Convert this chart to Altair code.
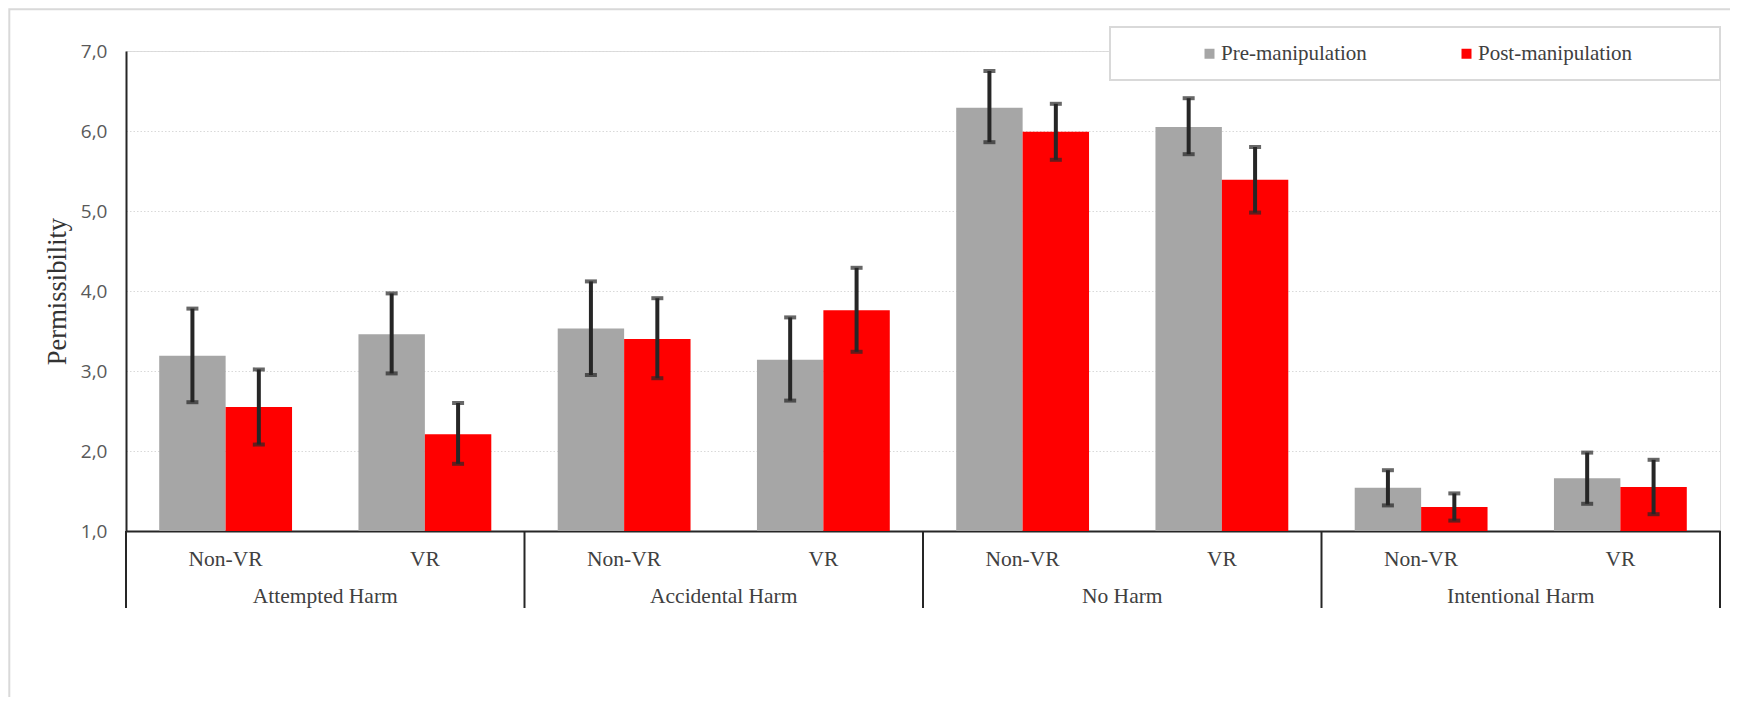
import altair as alt
import pandas as pd

# ---- data ----
groups = ["Attempted Harm", "Accidental Harm", "No Harm", "Intentional Harm"]
conditions = ["Non-VR", "VR"]
series = ["Pre-manipulation", "Post-manipulation"]

pre_mean = [3.19, 3.46, 3.53, 3.14, 6.29, 6.05, 1.54, 1.66]
pre_lo = [2.61, 2.97, 2.95, 2.63, 5.86, 5.71, 1.32, 1.34]
pre_hi = [3.78, 3.97, 4.12, 3.67, 6.75, 6.41, 1.76, 1.98]

post_mean = [2.55, 2.21, 3.40, 3.76, 5.99, 5.39, 1.30, 1.55]
post_lo = [2.08, 1.84, 2.91, 3.24, 5.64, 4.98, 1.13, 1.21]
post_hi = [3.02, 2.60, 3.91, 4.29, 6.34, 5.80, 1.47, 1.89]

y_ticks = [1, 2, 3, 4, 5, 6, 7]

# ---- build tables ----
keys = [f"{g}|{c}" for g in groups for c in conditions]
rows = []
for i, k in enumerate(keys):
    rows.append({"key": k, "series": series[0], "mean": pre_mean[i], "lo": pre_lo[i], "hi": pre_hi[i]})
    rows.append({"key": k, "series": series[1], "mean": post_mean[i], "lo": post_lo[i], "hi": post_hi[i]})
df = pd.DataFrame(rows)

grp_df = pd.DataFrame({"key": [f"{g}|{conditions[0]}" for g in groups], "group": groups})
end_df = pd.DataFrame({"key": [keys[-1]]})
one_df = pd.DataFrame({"a": [0]})

W, H = 1594, 480
DARK = "#262626"

x_scale = alt.Scale(domain=keys, paddingInner=0, paddingOuter=0)
xo_scale = alt.Scale(domain=series, paddingInner=0, paddingOuter=0.5)

x_axis = alt.Axis(
    title=None, labelExpr="split(datum.label, '|')[1]", labelAngle=0,
    labelFont="Liberation Serif", labelFontSize=21.5, labelColor="#404040",
    labelPadding=28, labelBaseline="middle", ticks=False, grid=False,
    domainColor=DARK, domainWidth=2,
)
y_axis = alt.Axis(
    values=y_ticks, labelExpr="replace(format(datum.value, '.1f'), '.', ',')",
    labelFont="Open Sans", labelFontSize=19, labelColor="#595959", labelPadding=19,
    ticks=False, domainColor=DARK, domainWidth=2,
    gridColor="#d9d9d9", gridDash=[1.5, 2], gridWidth=1.2,
    title="Permissibility", titleFont="Liberation Serif", titleFontSize=26.5,
    titleFontWeight="normal", titleColor="#333333", titleX=-69, titleBaseline="middle",
)

frame = alt.Chart(one_df).mark_rect(fill=None, stroke="#d9d9d9", strokeWidth=2).encode(
    x=alt.value(-116.7), x2=alt.value(1700), y=alt.value(-41.7), y2=alt.value(700)
)
legend_box = alt.Chart(one_df).mark_rect(fill="white", stroke="#d9d9d9", strokeWidth=2).encode(
    x=alt.value(984), x2=alt.value(1594), y=alt.value(-24), y2=alt.value(29)
)

bars = alt.Chart(df).mark_bar().encode(
    x=alt.X("key:N", scale=x_scale, axis=x_axis, sort=keys),
    xOffset=alt.XOffset("series:N", scale=xo_scale, sort=series),
    y=alt.Y("mean:Q", scale=alt.Scale(domain=[1, 7], nice=False, zero=False), axis=y_axis),
    y2=alt.datum(1),
    color=alt.Color(
        "series:N", sort=series,
        scale=alt.Scale(domain=series, range=["#a6a6a6", "#ff0000"]),
        legend=alt.Legend(
            title=None, orient="none", legendX=1073, legendY=-8, direction="horizontal",
            columns=2, columnPadding=89, symbolType="square", symbolSize=100,
            symbolStrokeWidth=0, labelFont="Liberation Serif", labelFontSize=21,
            labelColor="#404040", labelOffset=1, padding=0,
        ),
    ),
)

err = alt.Chart(df).mark_rule(color=DARK, strokeWidth=4).encode(
    x=alt.X("key:N", sort=keys),
    xOffset=alt.XOffset("series:N", sort=series),
    y="lo:Q", y2="hi:Q",
)
cap_lo = alt.Chart(df).mark_tick(color=DARK, thickness=4, size=12).encode(
    x=alt.X("key:N", sort=keys),
    xOffset=alt.XOffset("series:N", sort=series),
    y="lo:Q",
)
cap_hi = alt.Chart(df).mark_tick(color=DARK, thickness=4, size=12).encode(
    x=alt.X("key:N", sort=keys),
    xOffset=alt.XOffset("series:N", sort=series),
    y="hi:Q",
)

sep = alt.Chart(grp_df).mark_rule(color=DARK, strokeWidth=2).encode(
    x=alt.X("key:N", bandPosition=0), y=alt.value(H), y2=alt.value(H + 77)
)
sep_end = alt.Chart(end_df).mark_rule(color=DARK, strokeWidth=2).encode(
    x=alt.X("key:N", bandPosition=1), y=alt.value(H), y2=alt.value(H + 77)
)
grp_text = alt.Chart(grp_df).mark_text(
    font="Liberation Serif", fontSize=21.5, color="#404040", baseline="middle"
).encode(
    x=alt.X("key:N", bandPosition=1), y=alt.value(H + 66), text="group:N"
)

chart = alt.layer(
    frame, legend_box, bars, err, cap_lo, cap_hi, sep, sep_end, grp_text
).properties(
    width=W, height=H,
    autosize=alt.AutoSizeParams(type="none"),
    padding={"left": 118, "top": 43, "right": 10, "bottom": 166},
).configure_view(stroke=None).configure(font="Liberation Serif")

chart.save("out.html", embed_options={"renderer": "svg", "actions": False})
